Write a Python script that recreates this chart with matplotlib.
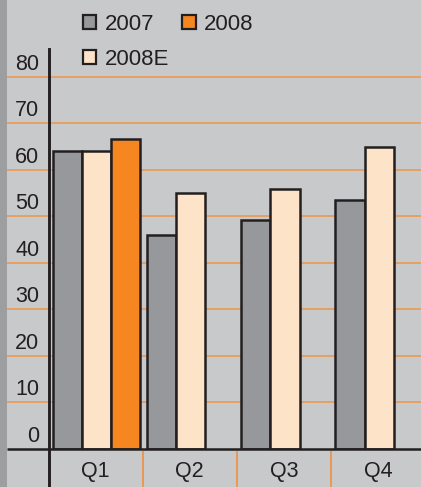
import matplotlib
matplotlib.use("Agg")
import matplotlib.pyplot as plt
from matplotlib.patches import Rectangle, Patch
from matplotlib.transforms import ScaledTranslation

# ---- data ----
quarters = ["Q1", "Q2", "Q3", "Q4"]
series_names = ["2007", "2008E", "2008"]
v2007 = [64, 46, 49.2, 53.6]
v2008E = [64, 55, 56, 65]
v2008 = [66.7, None, None, None]
yticks = [0, 10, 20, 30, 40, 50, 60, 70, 80]

colors = {"2007": "#97989b", "2008E": "#fde3c8", "2008": "#f6861f"}
bg = "#c8c9cb"
dark = "#231f20"
grid_c = "#ee9448"

plt.rcParams['font.family'] = ['Liberation Sans', 'DejaVu Sans']

W, H = 421, 487
fig = plt.figure(figsize=(W / 100, H / 100), dpi=100, facecolor=bg)

ax_left, ax_top, ax_bot = 48.5, 49, 449
cat_w = 94.2
ax_w = 4 * cat_w
ax = fig.add_axes([ax_left / W, (H - ax_bot) / H, ax_w / W, (ax_bot - ax_top) / H])
ax.set_facecolor(bg)
ax.set_xlim(0, 4)
ax.set_ylim(0, 86)

# left strip
fig.patches.append(Rectangle((0, 0), 7 / W, 1, transform=fig.transFigure,
                             facecolor="#9d9ea0", edgecolor="none", zorder=0))

# gridlines extended into label area
ext = -(ax_left - 7) / ax_w
ytr = ax.get_yaxis_transform()
for v in yticks[1:]:
    ax.plot([ext, 1], [v, v], transform=ytr, color=grid_c, lw=1.1,
            clip_on=False, zorder=1, solid_capstyle='butt')

bw = 0.31
offsets = [0.045, 0.355, 0.665]
series = [v2007, v2008E, v2008]
for name, vals, off in zip(series_names, series, offsets):
    for i, v in enumerate(vals):
        if v is None:
            continue
        ax.bar(i + off, v, width=bw, align='edge', color=colors[name],
               edgecolor=dark, linewidth=1.8, zorder=3)

# spines
for s in ["top", "right", "bottom"]:
    ax.spines[s].set_visible(False)
ax.spines["left"].set_color(dark)
ax.spines["left"].set_linewidth(2.1)
ax.spines["left"].set_zorder(5)

# x-axis line extended left
ax.plot([ext, 1], [0, 0], transform=ytr, color=dark, lw=1.8, clip_on=False,
        zorder=6, solid_capstyle='butt')
# y-axis extension below axis
below = -(H - ax_bot) / (ax_bot - ax_top)
xtr = ax.get_xaxis_transform()
ax.plot([0, 0], [0, below], transform=xtr, color=dark, lw=2.1, clip_on=False,
        zorder=6, solid_capstyle='butt')
# category separators
for b in [1, 2, 3]:
    ax.plot([b, b], [-0.006, below], transform=xtr, color=grid_c, lw=1.3,
            clip_on=False, zorder=2, solid_capstyle='butt')

# ticks
ax.set_yticks(yticks)
ax.set_yticklabels([str(t) for t in yticks])
ax.tick_params(axis='y', length=0, pad=6.5, labelsize=15.5, labelcolor=dark)
off = ScaledTranslation(0, 11 / 72, fig.dpi_scale_trans)
for lab in ax.get_yticklabels():
    lab.set_transform(lab.get_transform() + off)

ax.set_xticks([i + 0.5 for i in range(4)])
ax.set_xticklabels(quarters)
ax.tick_params(axis='x', length=0, pad=8.5, labelsize=15.5, labelcolor=dark)

# legend
handles = [Patch(facecolor=colors[n], edgecolor=dark, linewidth=1.6, label=n)
           for n in ["2007", "2008E", "2008"]]
fig.legend(handles=handles, loc='upper left',
           bbox_to_anchor=(83 / W, 1 - 14 / H), ncol=2, frameon=False,
           fontsize=16, labelcolor=dark, borderpad=0, borderaxespad=0,
           handlelength=0.6, handleheight=0.6, handletextpad=0.38,
           columnspacing=0.6, labelspacing=0.62)

fig.savefig("out.png", dpi=100, facecolor=bg)
